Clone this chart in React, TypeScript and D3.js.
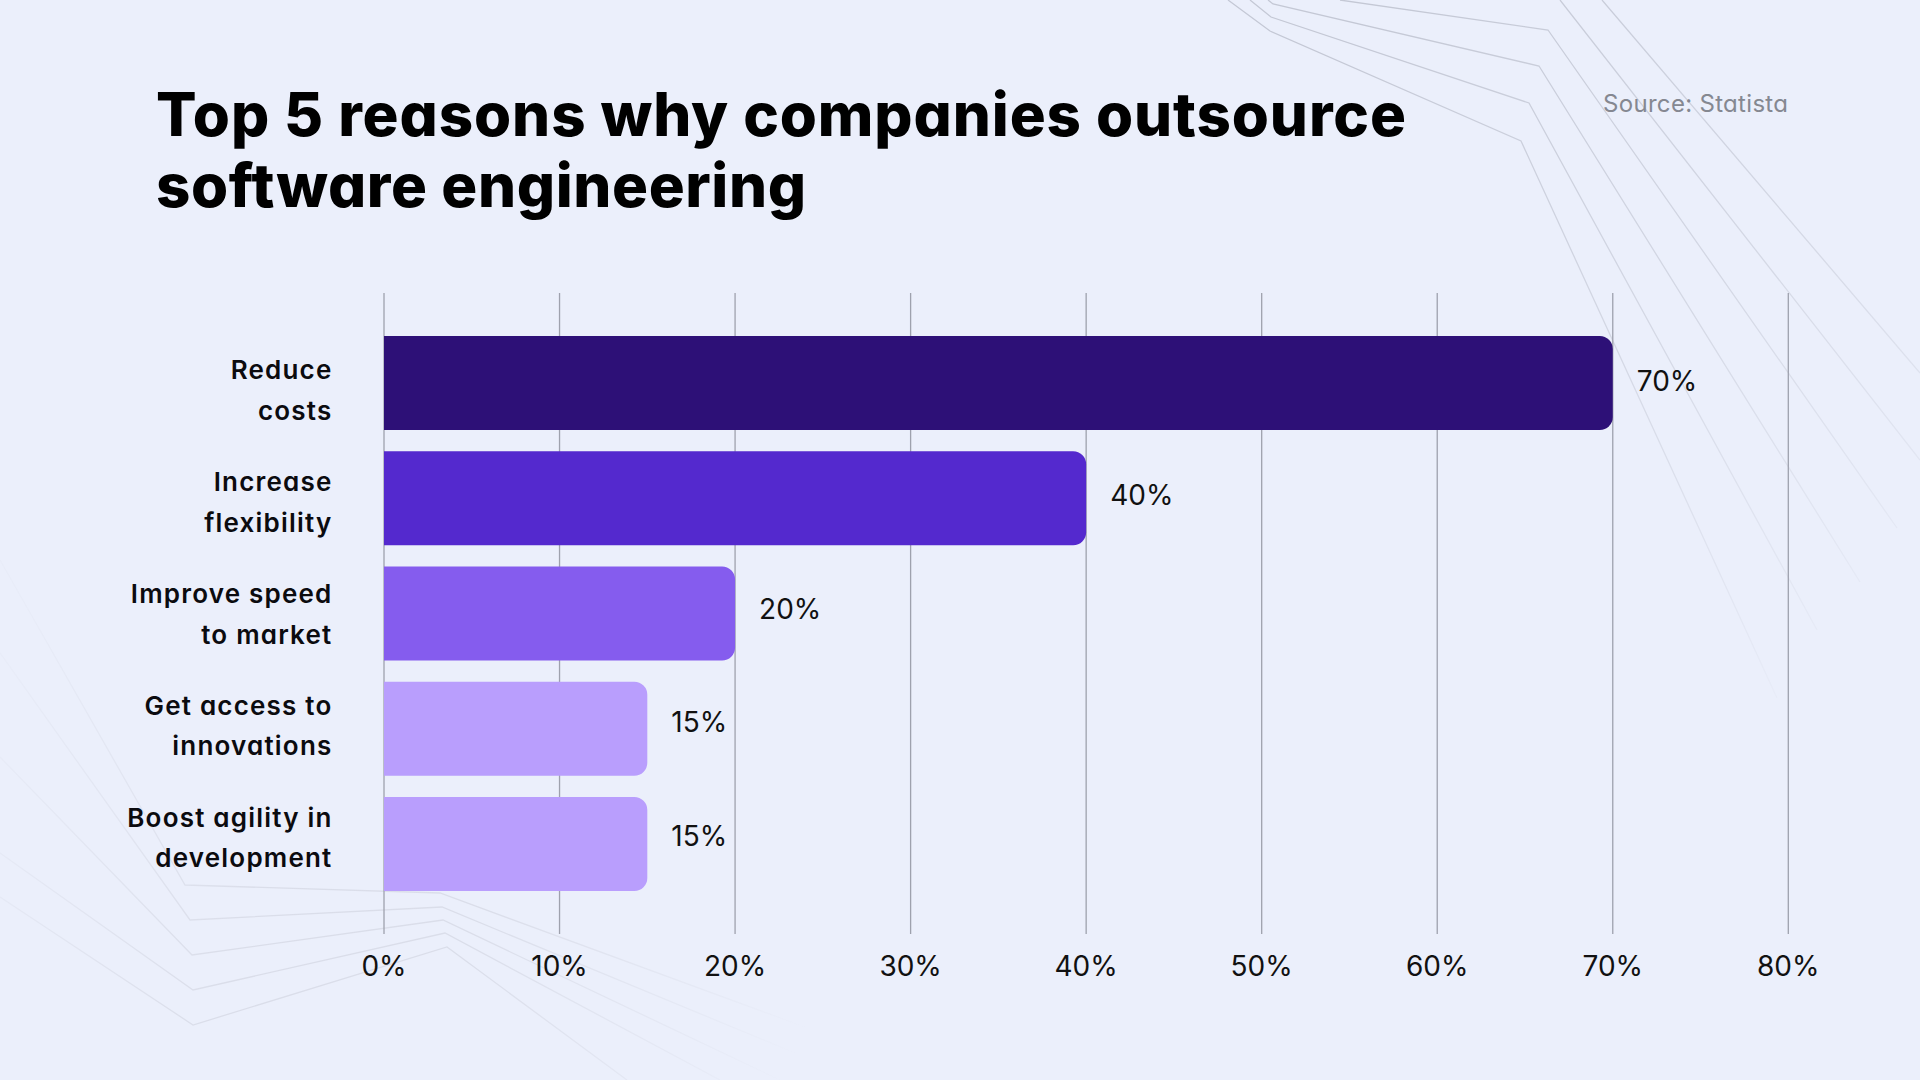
import React from "react";
import * as d3 from "d3";

// ---------- data ----------
const categories = [
  "Reduce costs",
  "Increase flexibility",
  "Improve speed to market",
  "Get access to innovations",
  "Boost agility in development",
];
const labelLines = [
  ["Reduce", "costs"],
  ["Increase", "flexibility"],
  ["Improve speed", "to market"],
  ["Get access to", "innovations"],
  ["Boost agility in", "development"],
];
const values = [70, 40, 20, 15, 15];
const barColors = ["#2D1077", "#5429CE", "#855CEE", "#B99EFD", "#B99EFD"];
const tickValues = [0, 10, 20, 30, 40, 50, 60, 70, 80];
const titleLines = ["Top 5 reasons why companies outsource", "software engineering"];
const sourceText = "Source: Statista";

// decorative background strokes
const decoTopRight: [number, number][][] = [
  [[1228, 0], [1270, 31], [1521, 141], [1777, 698]],
  [[1250, 0], [1271, 17], [1529, 103], [1817, 630]],
  [[1268, 0], [1273, 4], [1539, 66], [1860, 582]],
  [[1340, 0], [1548, 30], [1897, 528]],
  [[1560, 0], [1920, 460]],
  [[1602, 0], [1920, 373]],
];
const decoBottomLeft: [number, number][][] = [
  [[0, 560], [185, 885], [440, 893], [813, 1030]],
  [[0, 653], [190, 920], [442, 907], [800, 1055]],
  [[0, 757], [192, 955], [443, 920], [780, 1080]],
  [[0, 853], [193, 990], [445, 933], [720, 1080]],
  [[0, 897], [193, 1025], [447, 947], [627, 1080]],
];

const W = 1920;
const H = 1080;
const FONT = "Inter, 'Noto Sans', sans-serif";

export default function App() {
  const x = d3.scaleLinear().domain([0, 80]).range([384, 1788.3]);
  const y = d3
    .scaleBand<string>()
    .domain(categories)
    .range([336, 891])
    .paddingInner(0.184)
    .paddingOuter(0);
  const labelY = d3.scalePoint<string>().domain(categories).range([379.3, 826.7]);
  const valueY = d3.scalePoint<string>().domain(categories).range([391, 846]);
  const line = d3.line<[number, number]>();
  const r = 13;

  const barPath = (v: number, cat: string) => {
    const x0 = x(0);
    const x1 = x(v);
    const y0 = y(cat)!;
    const h = y.bandwidth();
    const p = d3.path();
    p.moveTo(x0, y0);
    p.lineTo(x1 - r, y0);
    p.arcTo(x1, y0, x1, y0 + r, r);
    p.lineTo(x1, y0 + h - r);
    p.arcTo(x1, y0 + h, x1 - r, y0 + h, r);
    p.lineTo(x0, y0 + h);
    p.closePath();
    return p.toString();
  };

  return (
    <svg
      width={W}
      height={H}
      viewBox={`0 0 ${W} ${H}`}
      style={{
        position: "absolute",
        left: 0,
        top: 0,
        fontFamily: FONT,
        fontFeatureSettings: "'cv11'",
      }}
    >
      <defs>
        <linearGradient id="fadeTR" gradientUnits="userSpaceOnUse" x1="1400" y1="0" x2="1880" y2="700">
          <stop offset="0" stopColor="#c2c6d3" stopOpacity="0.95" />
          <stop offset="0.5" stopColor="#c2c6d3" stopOpacity="0.55" />
          <stop offset="1" stopColor="#c2c6d3" stopOpacity="0" />
        </linearGradient>
        <linearGradient id="fadeBL" gradientUnits="userSpaceOnUse" x1="0" y1="700" x2="820" y2="1000">
          <stop offset="0" stopColor="#cfd2de" stopOpacity="0.1" />
          <stop offset="0.35" stopColor="#cfd2de" stopOpacity="0.6" />
          <stop offset="0.6" stopColor="#cfd2de" stopOpacity="0.6" />
          <stop offset="1" stopColor="#cfd2de" stopOpacity="0" />
        </linearGradient>
      </defs>
      <rect x={0} y={0} width={W} height={H} fill="#EBEFFB" />

      {decoTopRight.map((pts, i) => (
        <path key={`tr${i}`} d={line(pts)!} fill="none" stroke="url(#fadeTR)" strokeWidth={1.3} />
      ))}
      {decoBottomLeft.map((pts, i) => (
        <path key={`bl${i}`} d={line(pts)!} fill="none" stroke="url(#fadeBL)" strokeWidth={1.3} />
      ))}

      {/* title */}
      {titleLines.map((t, i) => (
        <text
          key={t}
          x={156}
          y={136 + i * 71}
          fontSize={60}
          fontWeight={800}
          fill="#000"
          textLength={i === 0 ? 1250 : 650}
          lengthAdjust="spacing"
        >
          {t}
        </text>
      ))}
      <text
        x={1603}
        y={111.5}
        fontSize={24}
        fontWeight={400}
        fill="#858891"
        textLength={185}
        lengthAdjust="spacing"
      >
        {sourceText}
      </text>

      {/* gridlines */}
      {tickValues.map((t) => (
        <line key={`g${t}`} x1={x(t)} x2={x(t)} y1={293} y2={934} stroke="#9ea1ad" strokeWidth={1.3} />
      ))}
      {tickValues.map((t) => (
        <text key={`t${t}`} x={x(t)} y={976} textAnchor="middle" fontSize={28} fill="#111">
          {`${t}%`}
        </text>
      ))}

      {/* bars */}
      {categories.map((c, i) => (
        <path key={`b${i}`} d={barPath(values[i], c)} fill={barColors[i]} />
      ))}

      {/* value labels */}
      {categories.map((c, i) => (
        <text key={`v${i}`} x={x(values[i]) + 24} y={valueY(c)} fontSize={28} fill="#111">
          {`${values[i]}%`}
        </text>
      ))}

      {/* category labels */}
      {categories.map((c, i) => (
        <text
          key={`l${i}`}
          textAnchor="end"
          fontSize={26}
          fontWeight={600}
          fill="#0b0b0f"
          letterSpacing={1.2}
        >
          {labelLines[i].map((ln, j) => (
            <tspan key={j} x={332.5} y={labelY(c)! + j * 40.6}>
              {ln}
            </tspan>
          ))}
        </text>
      ))}
    </svg>
  );
}
